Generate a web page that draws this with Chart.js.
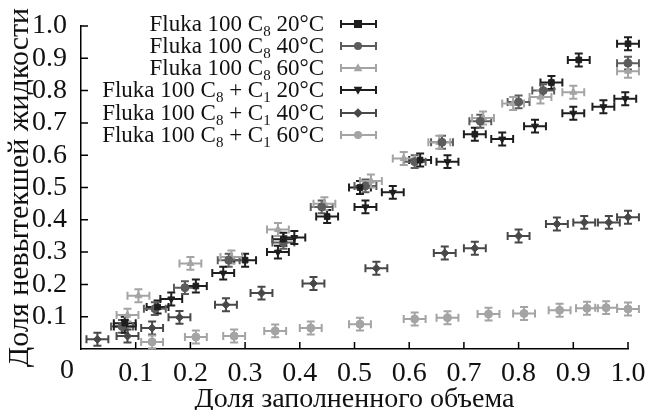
<!DOCTYPE html>
<html>
<head>
<meta charset="utf-8">
<script src="https://cdn.jsdelivr.net/npm/chart.js@4.4.1/dist/chart.umd.min.js"></script>
<style>
    html, body { margin: 0; padding: 0; background: #fff; }
</style>
</head>
<body>
<canvas id="myChart" width="645" height="410"></canvas>
<script>
// values
var c8_20_x = [0.08, 0.14, 0.21, 0.30, 0.37, 0.45, 0.51, 0.62, 0.72, 0.86, 0.91, 1.0];
var c8_20_y = [0.08, 0.13, 0.195, 0.275, 0.34, 0.41, 0.50, 0.585, 0.665, 0.825, 0.895, 0.945];

var c8_40_x = [0.075, 0.135, 0.19, 0.27, 0.37, 0.44, 0.52, 0.61, 0.66, 0.73, 0.80, 0.845, 1.0];
var c8_40_y = [0.07, 0.125, 0.19, 0.275, 0.33, 0.44, 0.505, 0.58, 0.64, 0.705, 0.765, 0.80, 0.885];

var c8_60_x = [0.085, 0.105, 0.20, 0.275, 0.36, 0.445, 0.53, 0.59, 0.655, 0.735, 0.79, 0.84, 0.90, 1.0];
var c8_60_y = [0.105, 0.165, 0.265, 0.285, 0.37, 0.45, 0.52, 0.59, 0.64, 0.715, 0.76, 0.78, 0.795, 0.86];

var c8c1_20_x = [0.08, 0.165, 0.26, 0.36, 0.39, 0.52, 0.57, 0.67, 0.77, 0.83, 0.90, 0.955, 0.995];
var c8c1_20_y = [0.07, 0.155, 0.235, 0.30, 0.345, 0.44, 0.485, 0.58, 0.65, 0.69, 0.73, 0.75, 0.775];

var c8c1_40_x = [0.03, 0.085, 0.13, 0.18, 0.265, 0.33, 0.425, 0.54, 0.665, 0.72, 0.80, 0.87, 0.92, 0.965, 1.0];
var c8c1_40_y = [0.03, 0.04, 0.065, 0.098, 0.137, 0.173, 0.203, 0.25, 0.297, 0.312, 0.35, 0.387, 0.392, 0.392, 0.408];

var c8c1_60_x = [0.13, 0.21, 0.28, 0.355, 0.42, 0.51, 0.61, 0.67, 0.745, 0.81, 0.875, 0.925, 0.96, 1.0];
var c8c1_60_y = [0.022, 0.037, 0.04, 0.056, 0.065, 0.077, 0.093, 0.097, 0.108, 0.11, 0.12, 0.126, 0.128, 0.124];

var x_err = 0.02;
var y_err = 0.02;

var series_labels = [
    'Fluka 100 C_8 20°C',
    'Fluka 100 C_8 40°C',
    'Fluka 100 C_8 60°C',
    'Fluka 100 C_8 + C_1 20°C',
    'Fluka 100 C_8 + C_1 40°C',
    'Fluka 100 C_8 + C_1 60°C'
];
var tick_values = [0, 0.1, 0.2, 0.3, 0.4, 0.5, 0.6, 0.7, 0.8, 0.9, 1.0];
var x_title = 'Доля заполненного объема';
var y_title = 'Доля невытекшей жидкости';

var FONT = '"Liberation Serif", "Times New Roman", serif';

function pts(xs, ys) {
    return xs.map(function(x, i){ return {x: x, y: ys[i]}; });
}

var styles = [
    {color: '#1e1e1e', shape: 'rect',     rot: 0},
    {color: '#5c5c5c', shape: 'circle',   rot: 0},
    {color: '#a4a4a4', shape: 'triangle', rot: 0},
    {color: '#1e1e1e', shape: 'triangle', rot: 180},
    {color: '#484848', shape: 'rectRot',  rot: 0},
    {color: '#a4a4a4', shape: 'circle',   rot: 0}
];
var all_x = [c8_20_x, c8_40_x, c8_60_x, c8c1_20_x, c8c1_40_x, c8c1_60_x];
var all_y = [c8_20_y, c8_40_y, c8_60_y, c8c1_20_y, c8c1_40_y, c8c1_60_y];

var datasets = styles.map(function(s, i){
    return {
        label: series_labels[i],
        data: pts(all_x[i], all_y[i]),
        pointStyle: s.shape,
        rotation: s.rot,
        pointRadius: 4,
        backgroundColor: s.color,
        borderColor: s.color,
        borderWidth: 1,
        clip: false
    };
});

function drawMarker(ctx, shape, rot, x, y, r, color) {
    ctx.save();
    ctx.fillStyle = color;
    ctx.translate(x, y);
    ctx.rotate(rot * Math.PI / 180);
    ctx.beginPath();
    if (shape === 'rect') {
        ctx.rect(-r, -r, 2 * r, 2 * r);
    } else if (shape === 'rectRot') {
        ctx.moveTo(0, -r * 1.2); ctx.lineTo(r * 1.2, 0); ctx.lineTo(0, r * 1.2); ctx.lineTo(-r * 1.2, 0);
        ctx.closePath();
    } else if (shape === 'triangle') {
        ctx.moveTo(0, -r * 1.2); ctx.lineTo(r * 1.1, r * 0.8); ctx.lineTo(-r * 1.1, r * 0.8);
        ctx.closePath();
    } else {
        ctx.arc(0, 0, r, 0, Math.PI * 2);
    }
    ctx.fill();
    ctx.restore();
}

function drawBar(ctx, x0, x1, y0, y1, px, py, cap) {
    ctx.beginPath();
    ctx.moveTo(x0, py); ctx.lineTo(x1, py);
    ctx.moveTo(x0, py - cap); ctx.lineTo(x0, py + cap);
    ctx.moveTo(x1, py - cap); ctx.lineTo(x1, py + cap);
    if (y0 !== null) {
        ctx.moveTo(px, y0); ctx.lineTo(px, y1);
        ctx.moveTo(px - cap, y0); ctx.lineTo(px + cap, y0);
        ctx.moveTo(px - cap, y1); ctx.lineTo(px + cap, y1);
    }
    ctx.stroke();
}

// text with _N subscripts, right aligned at x
function drawLabel(ctx, text, xr, y) {
    var parts = text.split(/_(\d)/);
    var big = '23px ' + FONT, small = '15px ' + FONT;
    var w = 0;
    parts.forEach(function(p, i){
        ctx.font = (i % 2) ? small : big;
        w += ctx.measureText(p).width;
    });
    var x = xr - w;
    ctx.textAlign = 'left';
    ctx.textBaseline = 'alphabetic';
    parts.forEach(function(p, i){
        ctx.font = (i % 2) ? small : big;
        ctx.fillText(p, x, (i % 2) ? y + 5 : y);
        x += ctx.measureText(p).width;
    });
}

var extras = {
    id: 'extras',
    beforeDatasetsDraw: function(chart) {
        var ctx = chart.ctx, xs = chart.scales.x, ys = chart.scales.y;
        chart.data.datasets.forEach(function(ds){
            ctx.save();
            ctx.strokeStyle = ds.borderColor;
            ctx.lineWidth = 2;
            ds.data.forEach(function(p){
                drawBar(ctx,
                    xs.getPixelForValue(p.x - x_err), xs.getPixelForValue(p.x + x_err),
                    ys.getPixelForValue(p.y - y_err), ys.getPixelForValue(p.y + y_err),
                    xs.getPixelForValue(p.x), ys.getPixelForValue(p.y), 4);
            });
            ctx.restore();
        });
    },
    afterDraw: function(chart) {
        var ctx = chart.ctx, xs = chart.scales.x, ys = chart.scales.y, a = chart.chartArea;
        ctx.save();
        // inward ticks
        ctx.strokeStyle = '#000';
        ctx.lineWidth = 1.5;
        ctx.beginPath();
        tick_values.forEach(function(v){
            if (v === 0) return;
            var px = xs.getPixelForValue(v);
            ctx.moveTo(px, a.bottom); ctx.lineTo(px, a.bottom - 7);
            var py = ys.getPixelForValue(v);
            ctx.moveTo(a.left, py); ctx.lineTo(a.left + 7, py);
        });
        ctx.stroke();
        // shared origin label
        ctx.fillStyle = '#111';
        ctx.font = '28px ' + FONT;
        ctx.textAlign = 'center';
        ctx.textBaseline = 'alphabetic';
        ctx.fillText('0', a.left - 14, a.bottom + 29);
        // legend
        var rows = [24, 46, 68, 90, 113, 135];
        styles.forEach(function(s, i){
            ctx.fillStyle = '#111';
            drawLabel(ctx, series_labels[i], 324, rows[i] + 7);
            ctx.strokeStyle = s.color;
            ctx.lineWidth = 2;
            drawBar(ctx, 341, 376, null, null, 358, rows[i], 4);
            drawMarker(ctx, s.shape, s.rot, 358, rows[i], 4, s.color);
        });
        ctx.restore();
    }
};

var config = {
    type: 'scatter',
    data: { datasets: datasets },
    options: {
        responsive: false,
        animation: false,
        layout: { padding: { top: 26, right: 17, left: 0, bottom: 0 } },
        plugins: { legend: { display: false }, tooltip: { enabled: false } },
        scales: {
            x: {
                type: 'linear', min: 0, max: 1,
                grid: { display: false },
                border: { display: true, color: '#000', width: 1.5 },
                ticks: {
                    stepSize: 0.1, padding: 0, color: '#111', autoSkip: false, maxRotation: 0,
                    font: { family: FONT, size: 28 },
                    callback: function(v){ return v === 0 ? '' : v.toFixed(1); }
                },
                title: { display: true, text: x_title, color: '#111',
                         font: { family: FONT, size: 28, lineHeight: 1 }, padding: { top: 0, bottom: -4 } },
                afterFit: function(s){ s.height = 61; s.paddingLeft = 0; s.paddingRight = 0; }
            },
            y: {
                type: 'linear', min: 0, max: 1,
                grid: { display: false },
                border: { display: true, color: '#000', width: 1.5 },
                ticks: {
                    stepSize: 0.1, padding: 6, color: '#111', autoSkip: false,
                    font: { family: FONT, size: 28 },
                    callback: function(v){ return v === 0 ? '' : v.toFixed(1); }
                },
                title: { display: true, text: y_title, color: '#111',
                         font: { family: FONT, size: 30, lineHeight: 1 }, padding: { top: 5, bottom: 0 } },
                afterFit: function(s){ s.width = 81; s.paddingTop = 0; s.paddingBottom = 0; }
            }
        }
    },
    plugins: [extras]
};

var myChart = new Chart(document.getElementById('myChart'), config);
</script>
</body>
</html>
